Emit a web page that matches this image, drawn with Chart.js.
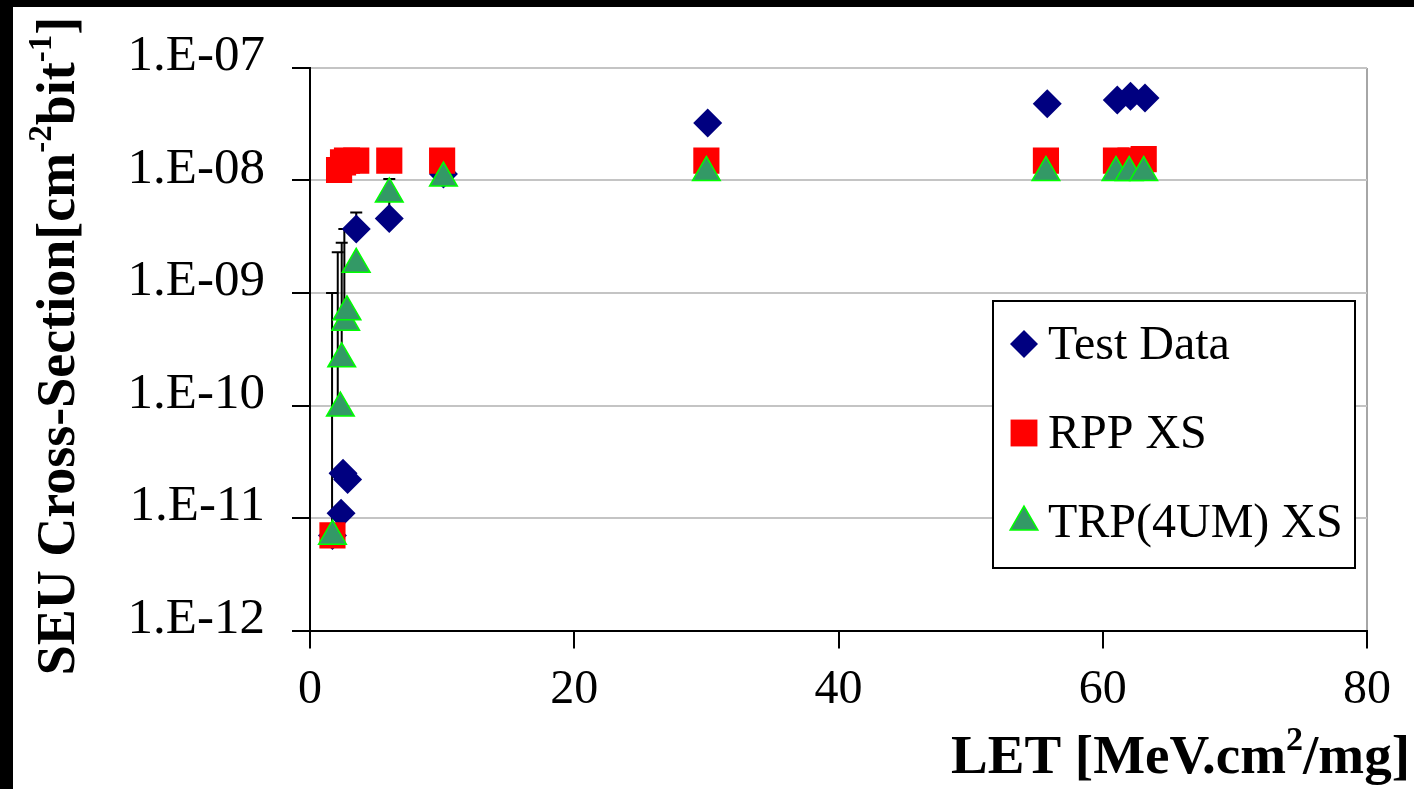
<!DOCTYPE html>
<html>
<head>
<meta charset="utf-8">
<script src="https://cdn.jsdelivr.net/npm/chart.js@4.4.1/dist/chart.umd.min.js"></script>
<style>
  html, body { margin: 0; padding: 0; background: #000; width: 1414px; height: 789px; overflow: hidden; }
  #wrap { position: absolute; left: 13px; top: 7px; width: 1401px; height: 782px; background: #fff; }
  canvas { display: block; }
</style>
</head>
<body>
<div id="wrap"><canvas id="chart" width="1401" height="782"></canvas></div>
<script>
/* SEU cross-section vs LET — test data against RPP and TRP(4UM) model values. */

// ---- data ----
const testX = [1.7, 2.35, 2.5, 2.85, 3.5, 6.0, 10.1, 30.1, 55.8, 61.1, 62.1, 63.2];
const testY = [7.0e-12, 1.1e-11, 2.5e-11, 2.2e-11, 3.7e-9, 4.6e-9, 1.14e-8, 3.25e-8, 4.8e-8, 5.2e-8, 5.6e-8, 5.4e-8];

const rppX = [1.7, 2.2, 2.5, 2.8, 3.5, 6.0, 10.0, 30.0, 55.7, 61.0, 62.1, 63.1];
const rppY = [7.0e-12, 1.24e-8, 1.45e-8, 1.5e-8, 1.5e-8, 1.5e-8, 1.5e-8, 1.5e-8, 1.5e-8, 1.5e-8, 1.5e-8, 1.55e-8];

const trpX = [1.7, 2.3, 2.4, 2.7, 2.8, 3.5, 6.0, 10.1, 30.0, 55.7, 61.0, 62.0, 63.1];
const trpY = [6.9e-12, 9.5e-11, 2.6e-10, 5.5e-10, 6.8e-10, 1.8e-9, 7.6e-9, 1.05e-8, 1.18e-8, 1.18e-8, 1.18e-8, 1.18e-8, 1.18e-8];

// error bars on the test data (x, lower end, upper end)
const errX  = [1.67, 2.1, 2.4, 2.6, 3.5, 6.0];
const errLo = [7.0e-12, 1.0e-10, 2.8e-10, 6.0e-10, 3.7e-9, 4.6e-9];
const errHi = [1.0e-9, 2.3e-9, 2.8e-9, 3.7e-9, 5.2e-9, 1.03e-8];

const xTicks = [0, 20, 40, 60, 80];
const yTicks = [1e-12, 1e-11, 1e-10, 1e-9, 1e-8, 1e-7];
const yTickLabels = ['1.E-12', '1.E-11', '1.E-10', '1.E-09', '1.E-08', '1.E-07'];

const seriesNames = ['Test Data', 'RPP XS', 'TRP(4UM) XS'];

// ---- helpers ----
const SERIF = '"Liberation Serif", "DejaVu Serif", serif';

function pts(xs, ys) {
  return xs.map((x, i) => ({ x, y: ys[i] }));
}

// draw text with superscript pieces; parts = [{t, sup}]
function drawRich(ctx, parts, x, y, size, align) {
  const big = 'bold ' + size + 'px ' + SERIF;
  const small = 'bold ' + Math.round(size * 0.62) + 'px ' + SERIF;
  let total = 0;
  for (const p of parts) {
    ctx.font = p.sup ? small : big;
    p.w = ctx.measureText(p.t).width;
    total += p.w;
  }
  let cx = align === 'right' ? x - total : align === 'center' ? x - total / 2 : x;
  ctx.textAlign = 'left';
  ctx.textBaseline = 'alphabetic';
  for (const p of parts) {
    ctx.font = p.sup ? small : big;
    ctx.fillText(p.t, cx, p.sup ? y - size * 0.42 : y);
    cx += p.w;
  }
}

const styles = [
  { pointStyle: 'rectRot', radius: 14.5, backgroundColor: '#000080', borderColor: '#000080', borderWidth: 0 },
  { pointStyle: 'rect', radius: 18.5, backgroundColor: '#ff0000', borderColor: '#ff0000', borderWidth: 0 },
  { pointStyle: 'triangle', radius: 16, backgroundColor: '#339966', borderColor: '#00ff00', borderWidth: 1.5 }
];

// ---- plugin: error bars, axis titles, boxed legend ----
const extras = {
  id: 'extras',
  beforeDatasetsDraw(chart) {
    const { ctx, scales: { x, y } } = chart;
    ctx.save();
    ctx.strokeStyle = '#000';
    ctx.lineWidth = 2;
    for (let i = 0; i < errX.length; i++) {
      const px = x.getPixelForValue(errX[i]);
      const p1 = y.getPixelForValue(errLo[i]);
      const p2 = y.getPixelForValue(errHi[i]);
      ctx.beginPath();
      ctx.moveTo(px, p1);
      ctx.lineTo(px, p2);
      ctx.moveTo(px - 6, p2);
      ctx.lineTo(px + 6, p2);
      ctx.stroke();
    }
    ctx.restore();
  },
  afterDraw(chart) {
    const { ctx } = chart;
    ctx.save();
    ctx.fillStyle = '#000';

    // x title
    drawRich(ctx, [{ t: 'LET [MeV.cm' }, { t: '2', sup: true }, { t: '/mg]' }], 1397, 766, 55, 'right');

    // y title (rotated)
    ctx.save();
    ctx.translate(61, 339);
    ctx.rotate(-Math.PI / 2);
    drawRich(ctx, [
      { t: 'SEU Cross-Section[cm' }, { t: '-2', sup: true }, { t: 'bit' }, { t: '-1', sup: true }, { t: ']' }
    ], 0, 0, 54, 'center');
    ctx.restore();

    // legend box
    const lx = 980, ly = 294, lw = 362, lh = 267;
    ctx.fillStyle = '#fff';
    ctx.fillRect(lx, ly, lw, lh);
    ctx.strokeStyle = '#000';
    ctx.lineWidth = 2;
    ctx.strokeRect(lx, ly, lw, lh);

    const rowY = [337, 426, 515];
    const legendR = [14, 19, 16];
    seriesNames.forEach((name, i) => {
      const s = styles[i];
      ctx.fillStyle = s.backgroundColor;
      ctx.strokeStyle = s.borderColor;
      ctx.lineWidth = s.borderWidth;
      Chart.helpers.drawPoint(ctx, {
        pointStyle: s.pointStyle, radius: legendR[i], rotation: 0, borderWidth: s.borderWidth
      }, 1011, rowY[i]);
      ctx.fillStyle = '#000';
      ctx.font = '48px ' + SERIF;
      ctx.textAlign = 'left';
      ctx.textBaseline = 'alphabetic';
      ctx.fillText(name, 1035, rowY[i] + 15);
    });
    ctx.restore();
  }
};

const ctx = document.getElementById('chart').getContext('2d');
new Chart(ctx, {
  type: 'scatter',
  data: {
    datasets: [
      { label: seriesNames[0], data: pts(testX, testY), order: 3, ...styles[0], pointRadius: styles[0].radius },
      { label: seriesNames[1], data: pts(rppX, rppY), order: 2, ...styles[1], pointRadius: styles[1].radius },
      { label: seriesNames[2], data: pts(trpX, trpY), order: 1, ...styles[2], pointRadius: styles[2].radius }
    ]
  },
  options: {
    responsive: false,
    animation: false,
    layout: { padding: { top: 61, right: 47, left: 0, bottom: 0 } },
    plugins: { legend: { display: false }, tooltip: { enabled: false } },
    elements: { point: { hoverRadius: 0 } },
    scales: {
      x: {
        type: 'linear',
        min: 0, max: 80,
        afterBuildTicks: s => { s.ticks = xTicks.map(v => ({ value: v })); },
        afterFit: s => { s.height = 158.5; },
        grid: {
          drawOnChartArea: true,
          color: c => (c.tick && c.tick.value === 80 ? '#a6a6a6' : 'rgba(0,0,0,0)'),
          lineWidth: 2,
          tickColor: '#000',
          tickLength: 18
        },
        border: { color: '#000', width: 2 },
        ticks: { color: '#000', font: { family: SERIF, size: 48 }, padding: 13, maxRotation: 0 }
      },
      y: {
        type: 'logarithmic',
        min: 1e-12, max: 1e-7,
        afterBuildTicks: s => { s.ticks = yTicks.map(v => ({ value: v })); },
        afterFit: s => { s.width = 297; },
        grid: {
          color: '#c4c4c4',
          lineWidth: 2,
          tickColor: '#000',
          tickLength: 18
        },
        border: { color: '#000', width: 2 },
        ticks: {
          color: '#000',
          font: { family: SERIF, size: 51 },
          padding: 27,
          labelOffset: -11,
          callback: v => yTickLabels[yTicks.findIndex(t => Math.abs(Math.log10(t) - Math.log10(v)) < 1e-6)]
        }
      }
    }
  },
  plugins: [extras]
});
</script>
</body>
</html>
